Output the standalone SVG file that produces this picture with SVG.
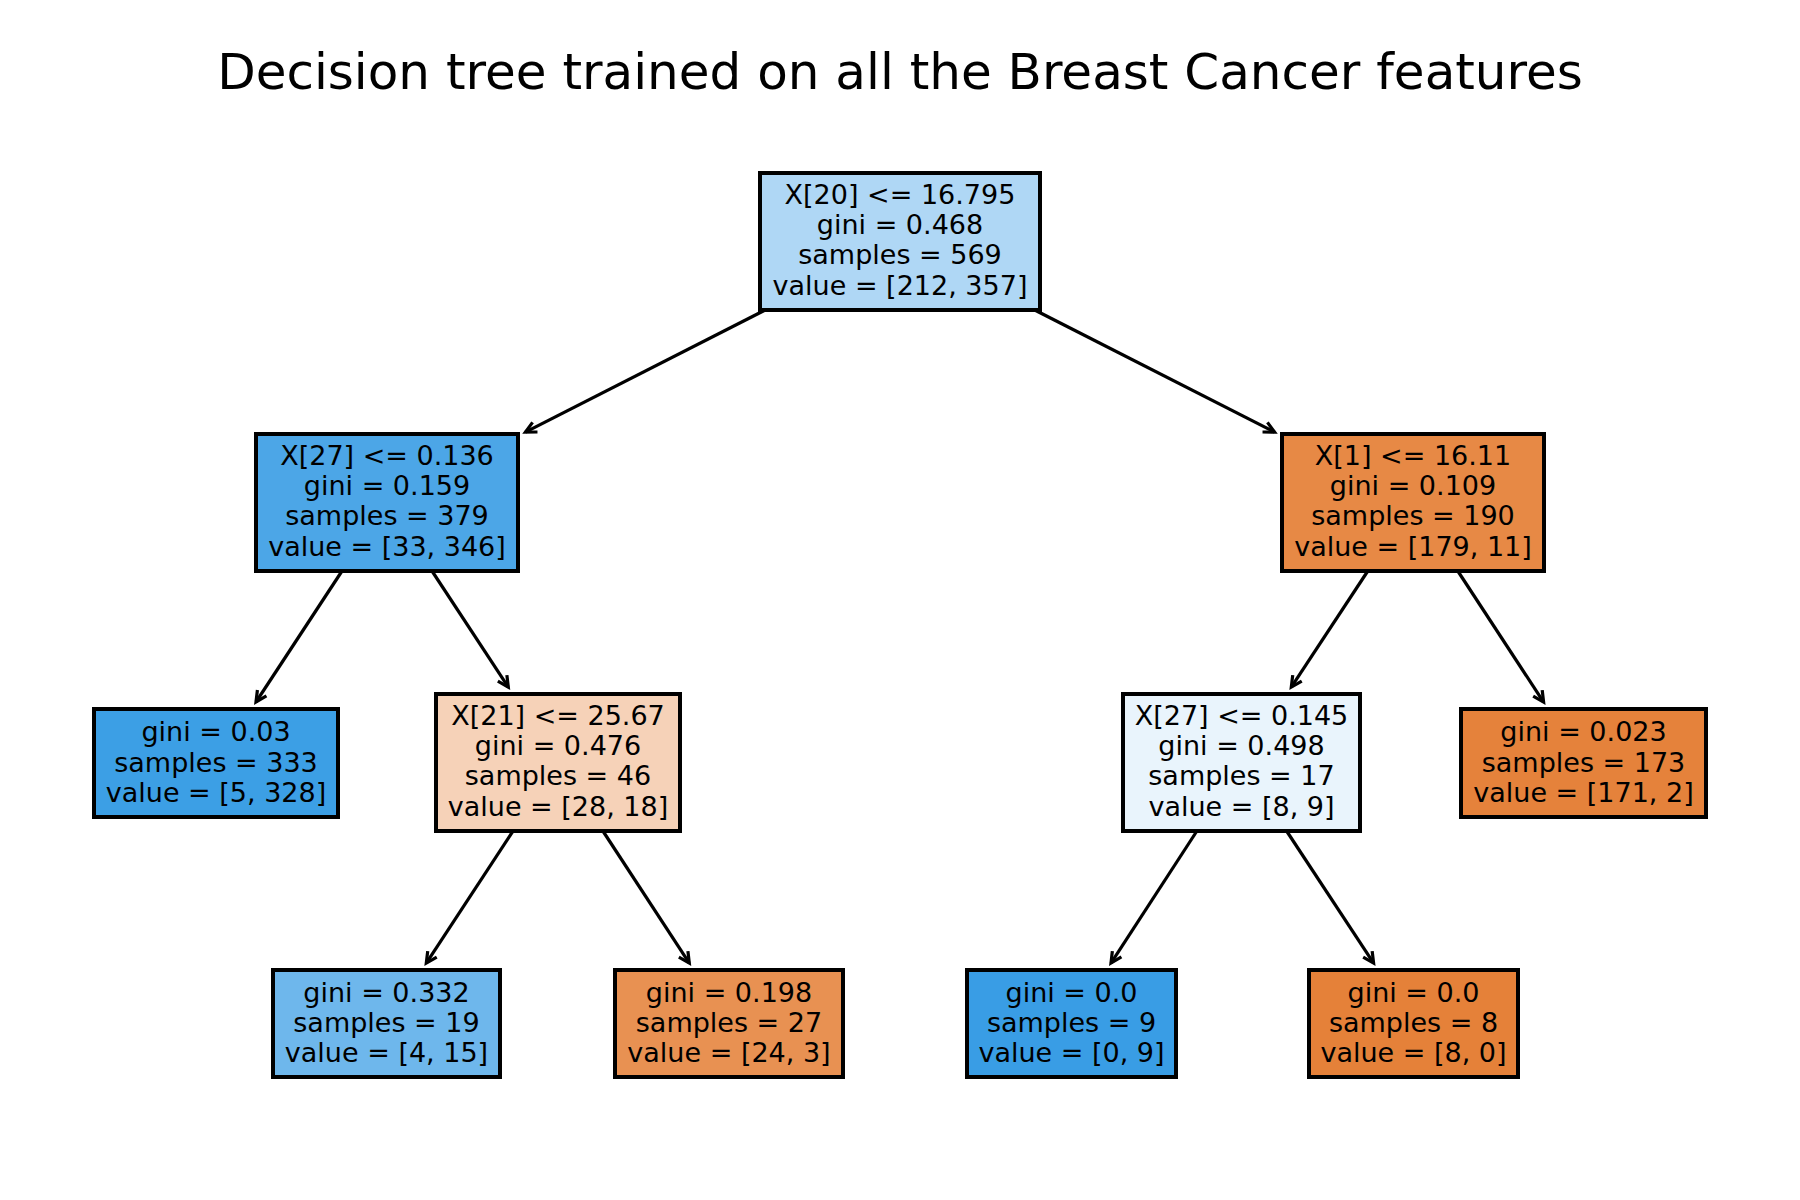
<svg xmlns="http://www.w3.org/2000/svg" width="1800" height="1200" viewBox="0 0 1800 1200">
<style>
  .box { stroke: #000; stroke-width: 4; }
  .lbl { font-family: "DejaVu Sans", "Liberation Sans", sans-serif; font-size: 27px; text-anchor: middle; fill: #000; }
  .title { font-family: "DejaVu Sans", "Liberation Sans", sans-serif; font-size: 50px; text-anchor: middle; fill: #000; }
  .edge { stroke: #000; stroke-width: 3.2; fill: none; marker-end: url(#head); }
</style>
<defs>
  <marker id="head" markerUnits="userSpaceOnUse" viewBox="-14 -8 16 16" refX="0" refY="0" markerWidth="16" markerHeight="16" orient="auto" overflow="visible">
    <path d="M -10.8 -5.4 L 0 0 L -10.8 5.4" fill="none" stroke="#000" stroke-width="3.2" stroke-linejoin="miter" stroke-linecap="butt"/>
  </marker>
</defs>
<rect width="1800" height="1200" fill="#ffffff"/>
<text class="title" x="900" y="89">Decision tree trained on all the Breast Cancer features</text>

<g id="edges">
  <path class="edge" d="M 765.3 310 L 525.4 432.1"/>
  <path class="edge" d="M 1034.7 310 L 1274.6 432.1"/>
  <path class="edge" d="M 342 571 L 256 702"/>
  <path class="edge" d="M 432 571 L 508.3 687.1"/>
  <path class="edge" d="M 1367.8 571 L 1291.3 687.1"/>
  <path class="edge" d="M 1457.8 571 L 1543.6 702.1"/>
  <path class="edge" d="M 513 831 L 426.3 963.1"/>
  <path class="edge" d="M 602.9 831 L 689.3 963.1"/>
  <path class="edge" d="M 1196.9 831 L 1111 963.1"/>
  <path class="edge" d="M 1286.6 831 L 1373.6 963.1"/>
</g>

<g id="node0">
  <rect class="box" x="760" y="173" width="280" height="137" fill="#afd7f5"/>
  <text class="lbl" x="900" y="204">X[20] &lt;= 16.795</text>
  <text class="lbl" x="900" y="234.2">gini = 0.468</text>
  <text class="lbl" x="900" y="264.4">samples = 569</text>
  <text class="lbl" x="900" y="294.6">value = [212, 357]</text>
</g>
<g id="node1">
  <rect class="box" x="256" y="434" width="262" height="137" fill="#4ca6e7"/>
  <text class="lbl" x="387" y="465">X[27] &lt;= 0.136</text>
  <text class="lbl" x="387" y="495.2">gini = 0.159</text>
  <text class="lbl" x="387" y="525.4">samples = 379</text>
  <text class="lbl" x="387" y="555.6">value = [33, 346]</text>
</g>
<g id="node2">
  <rect class="box" x="94" y="709" width="244" height="108" fill="#3c9fe5"/>
  <text class="lbl" x="216" y="741.3">gini = 0.03</text>
  <text class="lbl" x="216" y="771.6">samples = 333</text>
  <text class="lbl" x="216" y="801.9">value = [5, 328]</text>
</g>
<g id="node3">
  <rect class="box" x="436" y="694" width="244" height="137" fill="#f6d2b8"/>
  <text class="lbl" x="558" y="725">X[21] &lt;= 25.67</text>
  <text class="lbl" x="558" y="755.2">gini = 0.476</text>
  <text class="lbl" x="558" y="785.4">samples = 46</text>
  <text class="lbl" x="558" y="815.6">value = [28, 18]</text>
</g>
<g id="node4">
  <rect class="box" x="273" y="970" width="227" height="107" fill="#6eb7ec"/>
  <text class="lbl" x="386.5" y="1001.8">gini = 0.332</text>
  <text class="lbl" x="386.5" y="1032.1">samples = 19</text>
  <text class="lbl" x="386.5" y="1062.4">value = [4, 15]</text>
</g>
<g id="node5">
  <rect class="box" x="615" y="970" width="228" height="107" fill="#e89152"/>
  <text class="lbl" x="729" y="1001.8">gini = 0.198</text>
  <text class="lbl" x="729" y="1032.1">samples = 27</text>
  <text class="lbl" x="729" y="1062.4">value = [24, 3]</text>
</g>
<g id="node6">
  <rect class="box" x="1282" y="434" width="262" height="137" fill="#e78945"/>
  <text class="lbl" x="1413" y="465">X[1] &lt;= 16.11</text>
  <text class="lbl" x="1413" y="495.2">gini = 0.109</text>
  <text class="lbl" x="1413" y="525.4">samples = 190</text>
  <text class="lbl" x="1413" y="555.6">value = [179, 11]</text>
</g>
<g id="node7">
  <rect class="box" x="1123" y="694" width="237" height="137" fill="#e9f4fc"/>
  <text class="lbl" x="1241.5" y="725">X[27] &lt;= 0.145</text>
  <text class="lbl" x="1241.5" y="755.2">gini = 0.498</text>
  <text class="lbl" x="1241.5" y="785.4">samples = 17</text>
  <text class="lbl" x="1241.5" y="815.6">value = [8, 9]</text>
</g>
<g id="node8">
  <rect class="box" x="967" y="970" width="209" height="107" fill="#399de5"/>
  <text class="lbl" x="1071.5" y="1001.8">gini = 0.0</text>
  <text class="lbl" x="1071.5" y="1032.1">samples = 9</text>
  <text class="lbl" x="1071.5" y="1062.4">value = [0, 9]</text>
</g>
<g id="node9">
  <rect class="box" x="1309" y="970" width="209" height="107" fill="#e58139"/>
  <text class="lbl" x="1413.5" y="1001.8">gini = 0.0</text>
  <text class="lbl" x="1413.5" y="1032.1">samples = 8</text>
  <text class="lbl" x="1413.5" y="1062.4">value = [8, 0]</text>
</g>
<g id="node10">
  <rect class="box" x="1461" y="709" width="245" height="108" fill="#e5823b"/>
  <text class="lbl" x="1583.5" y="741.3">gini = 0.023</text>
  <text class="lbl" x="1583.5" y="771.6">samples = 173</text>
  <text class="lbl" x="1583.5" y="801.9">value = [171, 2]</text>
</g>
</svg>
